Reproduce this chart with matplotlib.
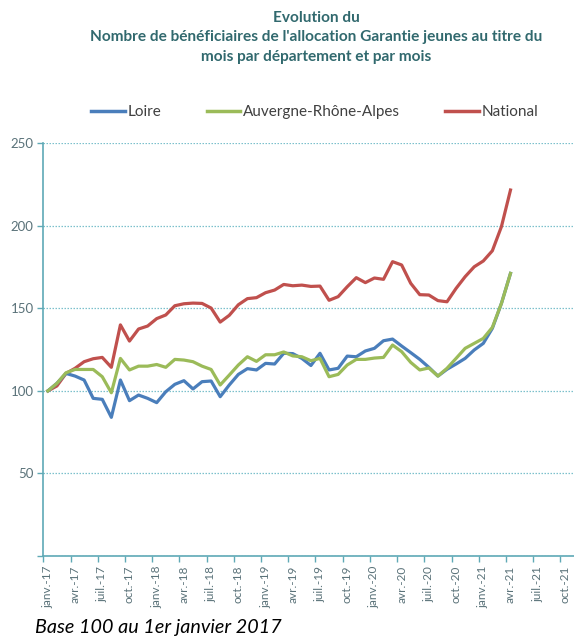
import matplotlib.pyplot as plt
from matplotlib.lines import Line2D

plt.rcParams['font.family'] = ['Lato', 'DejaVu Sans']

# indices des mois depuis janv.-17 (0) jusqu'a avr.-21 (51)
months = list(range(52))

loire = [100, 104.6, 110.6, 109, 106.6, 95.5, 94.9, 84, 106.6, 94.1,
         97.5, 95.5, 92.9, 99.5, 104, 106.2, 101.2, 105.6, 106, 96.5,
         103.6, 110, 113.5, 112.7, 116.7, 116.3, 122.8, 122.6, 119.7, 115.4,
         122.8, 112.7, 113.7, 121.1, 120.7, 124.2, 125.8, 130.4, 131.4, 127.2,
         123.2, 119.1, 114.3, 109, 113.1, 116.3, 119.7, 124.8, 128.8, 137.9,
         153, 171.2]
ara = [100, 104.6, 111, 113, 113, 113, 108.6, 98.9, 119.7, 112.7,
       115, 115, 116, 114.3, 119.1, 118.7, 117.7, 115, 113, 103.6,
       109.6, 115.7, 120.7, 117.9, 121.9, 121.9, 123.6, 121.2, 120.7, 118.3,
       119.7, 108.6, 110, 115.7, 119.1, 119.1, 119.9, 120.3, 127.8, 123.8,
       117.3, 112.7, 113.9, 109, 113.7, 119.7, 125.8, 128.8, 131.8, 138.5,
       153, 171.2]
national = [100, 103, 110.6, 113.7, 117.7, 119.5, 120.3, 114.3, 140, 130.2,
            137.5, 139.3, 143.8, 146, 151.6, 152.8, 153.2, 153, 150.2, 141.7,
            145.8, 152.2, 155.9, 156.5, 159.5, 161.1, 164.5, 163.7, 164.1, 163.3,
            163.5, 154.9, 157.1, 163.1, 168.6, 165.6, 168.4, 167.6, 178.3, 176.3,
            165.2, 158.3, 158.1, 154.7, 154, 162.1, 169.2, 175.2, 178.7, 184.9,
            199.5, 221.7]

tick_labels = ['janv.-17', 'avr.-17', 'juil.-17', 'oct.-17',
               'janv.-18', 'avr.-18', 'juil.-18', 'oct.-18',
               'janv.-19', 'avr.-19', 'juil.-19', 'oct.-19',
               'janv.-20', 'avr.-20', 'juil.-20', 'oct.-20',
               'janv.-21', 'avr.-21', 'juil.-21', 'oct.-21']

blue = '#4a7ebb'
green = '#9bbb59'
red = '#c0504d'
axis_col = '#5fa9b6'
grid_col = '#7cc0cc'
label_col = '#5a7279'
title_col = '#31696e'

fig = plt.figure(figsize=(5.74, 6.37), dpi=100)
ax = fig.add_axes([43.3 / 574, 1 - 556 / 637, 1 - 43.3 / 574, (556 - 143.3) / 637])

ax.plot(months, national, color=red, lw=2.3, solid_joinstyle='round', zorder=3)
ax.plot(months, ara, color=green, lw=2.3, solid_joinstyle='round', zorder=4)
ax.plot(months, loire, color=blue, lw=2.3, solid_joinstyle='round', zorder=3)

ax.set_xlim(-0.5, 58.0)
ax.set_ylim(0, 250)
ax.set_yticks([0, 50, 100, 150, 200, 250])
ax.set_yticklabels(['', '50', '100', '150', '200', '250'])
ax.yaxis.grid(True, color=grid_col, lw=0.9, ls=(0, (1.2, 1.2)))
ax.set_axisbelow(True)

ax.set_xticks([i * 3 for i in range(len(tick_labels))])
ax.set_xticklabels(tick_labels, rotation=90)
ax.set_xticks([i * 3 - 0.5 for i in range(len(tick_labels))], minor=True)
ax.tick_params(axis='x', which='major', length=0, pad=7, labelsize=8.5, labelcolor=label_col)
ax.tick_params(axis='x', which='minor', length=4, color=axis_col, width=1)
ax.tick_params(axis='y', length=4, color=axis_col, width=1, labelsize=9.5,
               labelcolor=label_col, pad=3)

for s in ['top', 'right']:
    ax.spines[s].set_visible(False)
for s in ['left', 'bottom']:
    ax.spines[s].set_color(axis_col)
    ax.spines[s].set_linewidth(1.2)

fig.text(316 / 574, 1 - 18 / 637, 'Evolution du', ha='center', va='center',
         fontsize=11.1, fontweight='bold', color=title_col)
fig.text(316 / 574, 1 - 37.5 / 637,
         "Nombre de bénéficiaires de l'allocation Garantie jeunes au titre du",
         ha='center', va='center', fontsize=11.1, fontweight='bold', color=title_col)
fig.text(316 / 574, 1 - 57 / 637, 'mois par département et par mois',
         ha='center', va='center', fontsize=11.1, fontweight='bold', color=title_col)

handles = [Line2D([], [], color=blue, lw=2.5),
           Line2D([], [], color=green, lw=2.5),
           Line2D([], [], color=red, lw=2.5)]
fig.legend(handles, ['Loire', 'Auvergne-Rhône-Alpes', 'National'],
           loc='center', bbox_to_anchor=(315 / 574, 1 - 112 / 637), ncol=3,
           frameon=False, fontsize=11, handlelength=2.2, handletextpad=0.2,
           columnspacing=2.95, labelcolor='#404040')

fig.text(35 / 574, 1 - 627 / 637, 'Base 100 au 1er janvier 2017', ha='left',
         va='center', fontsize=14.2, style='italic', color='black')

fig.savefig('out.png', dpi=100)
